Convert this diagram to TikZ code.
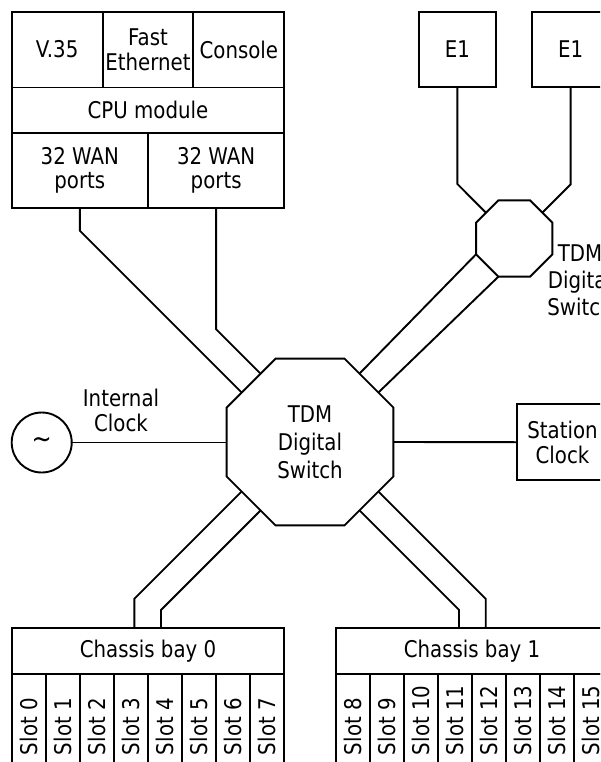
\documentclass[tikz,border=0pt]{standalone}
\usepackage{fontspec}
\setmainfont{DejaVu Sans}[FakeStretch=0.86]
\usetikzlibrary{shapes.geometric,calc}
\begin{document}
\begin{tikzpicture}[x=1pt,y=-1pt,line width=1.9pt,
  every node/.style={font=\fontsize{23}{24}\selectfont,inner sep=0pt,outer sep=0pt},
  cell/.style 2 args={draw,rectangle,minimum width=#1pt,minimum height=#2pt,align=center},
  oct/.style={draw,regular polygon,regular polygon sides=8,inner sep=0pt,outer sep=0pt,align=center},
  slotlbl/.style={rotate=90,anchor=west}]
\useasboundingbox (0,0) rectangle (600,762);
\clip (0,0) rectangle (600,762);

% CPU block
\node[cell={90.87}{75.8}] (v35) at (57.13,49.6) {V.35};
\node[cell={90.87}{75.8},font=\fontsize{23}{25}\selectfont] (fe) at (148,49.6) {Fast\\Ethernet};
\node[cell={90.87}{75.8}] (con) at (238.87,49.6) {Console};
\node[cell={272.6}{45.2}] (cpu) at (148,110.1) {CPU module};
\node[cell={136.3}{75.6}] (wan1) at (79.85,170.5) {32 WAN\\ports};
\node[cell={136.3}{75.6}] (wan2) at (216.15,170.5) {32 WAN\\ports};

% E1 boxes
\node[cell={76.7}{75.6}] (e1a) at (457.35,49.5) {E1};
\node[cell={76.7}{75.6}] (e1b) at (570.65,49.5) {E1};

% small switch
\node[oct,minimum size=82.6pt] (so) at (514.2,238.5) {};
\node[align=center,font=\fontsize{23}{27}\selectfont] (solbl) at (580,280) {TDM\\Digital\\Switch};

% main switch
\node[oct,minimum size=180.4pt,font=\fontsize{23}{28}\selectfont] (sw) at (310,442) {TDM\\Digital\\Switch};

% clocks
\node[draw,circle,minimum size=60pt,font=\fontsize{28}{28}\selectfont] (clk) at (41.7,442.5) {\textasciitilde};
\node[align=center,font=\fontsize{23}{24.7}\selectfont] (intlbl) at (121,410.4) {Internal\\Clock};
\node[cell={91.6}{75.7},font=\fontsize{23}{25}\selectfont] (stn) at (562.5,442.2) {Station\\Clock};

% chassis bays
\node[cell={272.6}{45.7}] (bay0) at (148,651.15) {Chassis bay 0};
\node[cell={272.6}{45.7}] (bay1) at (472,651.15) {Chassis bay 1};
\foreach \i in {0,...,7}{
  \node[cell={34.075}{116},anchor=north west] (s\i) at (11.7+34.075*\i,674) {};
  \node[slotlbl] (sl\i) at ($(s\i.north)+(0,81)$) {Slot \i};
}
\foreach \i in {0,...,7}{
  \pgfmathtruncatemacro{\j}{\i+8}
  \node[cell={34.075}{116},anchor=north west] (s\j) at (335.7+34.075*\i,674) {};
  \node[slotlbl] (sl\j) at ($(s\j.north)+(0,81)$) {Slot \j};
}

% connection points on the main switch
\coordinate (nwa) at ($(sw.center)+(-68.35,-49.45)$);
\coordinate (nwb) at ($(sw.center)+(-49.45,-68.35)$);
\coordinate (nea) at ($(sw.center)+(49.45,-68.35)$);
\coordinate (neb) at ($(sw.center)+(68.35,-49.45)$);
\coordinate (swa) at ($(sw.center)+(-68.35,49.45)$);
\coordinate (swb) at ($(sw.center)+(-49.45,68.35)$);
\coordinate (sea) at ($(sw.center)+(68.35,49.45)$);
\coordinate (seb) at ($(sw.center)+(49.45,68.35)$);
% connection points on the small switch
\coordinate (soa) at ($(so.center)+(-38.15,15.8)$);
\coordinate (sob) at ($(so.center)+(-15.8,38.15)$);
\coordinate (soc) at ($(so.center)+(-28.2,-25.8)$);
\coordinate (sod) at ($(so.center)+(28.1,-25.8)$);

% connectors
\draw (wan1.south) -- ++(0,22.45) -- (nwa);
\draw (wan2.south) -- ++(0,120.95) -- (nwb);
\draw (e1a.south) -- ++(0,96.7) -- (soc);
\draw (e1b.south) -- ++(0,97) -- (sod);
\draw (nea) -- (soa);
\draw (neb) -- (sob);
\draw (swa) -- ++(-107.35,107.35) -- ($(bay0.north)+(-13.7,0)$);
\draw (swb) -- ++(-99.55,99.55) -- ($(bay0.north)+(13,0)$);
\draw (sea) -- ++(107.35,107.35) -- ($(bay1.north)+(13.7,0)$);
\draw (seb) -- ++(99.55,99.55) -- ($(bay1.north)+(-13,0)$);
\draw (clk.east) -- (clk.east -| sw.west);
\draw (sw.east) -- (stn.west);
\end{tikzpicture}
\end{document}
